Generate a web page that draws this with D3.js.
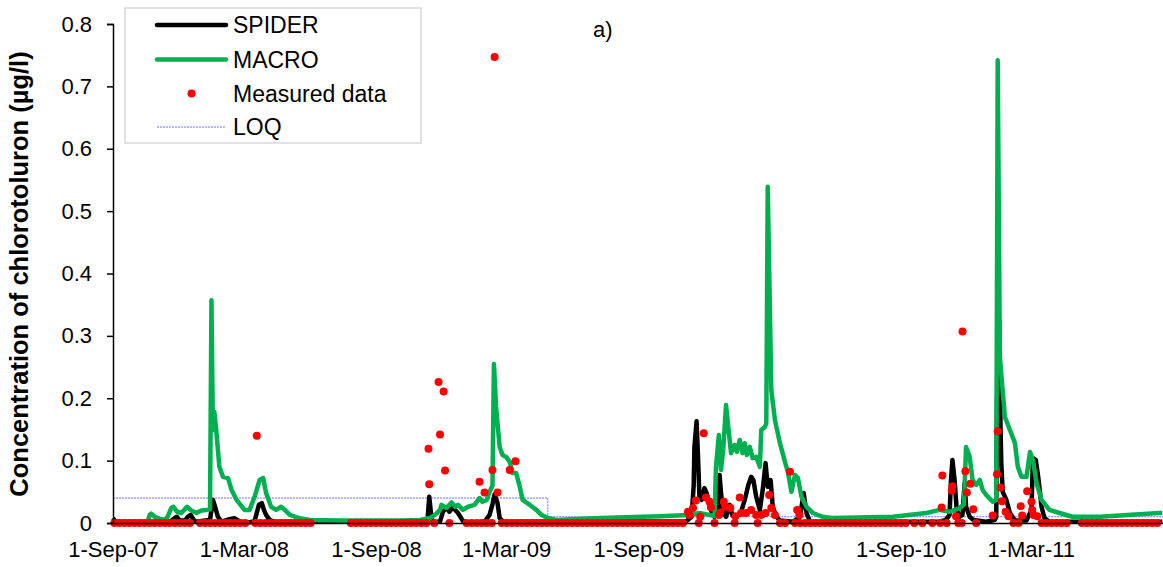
<!DOCTYPE html>
<html>
<head>
<meta charset="utf-8">
<script src="https://cdn.jsdelivr.net/npm/d3@7"></script>
<style>
  body { margin: 0; background: #fff; }
  text { font-family: "Liberation Sans", Arial, sans-serif; fill: #000; }
</style>
</head>
<body>
<div class="container"></div>
<script>
var width = 1163;
var height = 567;
var padding = {
  top: 24,
  bottom: 44,
  left: 113,
  right: 0
};

// x axis: labelled dates and the extent of the time axis
var xDomain = ["2007-09-01", "2011-09-01"];
var xTickDates = ["2007-09-01", "2008-03-01", "2008-09-01", "2009-03-01",
  "2009-09-01", "2010-03-01", "2010-09-01", "2011-03-01"];
var yTicks = [0, 0.1, 0.2, 0.3, 0.4, 0.5, 0.6, 0.7, 0.8];

// SPIDER simulated concentration (ug/l)
var spider = [
  ["2007-09-01", 0.008], ["2007-09-05", 0.002], ["2007-11-19", 0.002], ["2007-11-26", 0.008],
  ["2007-11-29", 0.010], ["2007-12-03", 0.004], ["2007-12-10", 0.004], ["2007-12-14", 0.010],
  ["2007-12-18", 0.013], ["2007-12-24", 0.002], ["2008-01-14", 0.005], ["2008-01-18", 0.037],
  ["2008-01-21", 0.026], ["2008-01-25", 0.010], ["2008-01-30", 0.002], ["2008-02-10", 0.006],
  ["2008-02-17", 0.0075], ["2008-02-24", 0.003], ["2008-03-05", 0.000], ["2008-03-16", 0.003],
  ["2008-03-22", 0.029], ["2008-03-26", 0.032], ["2008-03-29", 0.021], ["2008-04-01", 0.013],
  ["2008-04-06", 0.005], ["2008-04-13", 0.002], ["2008-11-10", 0.002], ["2008-11-12", 0.010],
  ["2008-11-14", 0.042], ["2008-11-17", 0.010], ["2008-11-19", 0.002], ["2008-11-29", 0.002],
  ["2008-12-03", 0.018], ["2008-12-08", 0.025], ["2008-12-12", 0.018], ["2008-12-17", 0.025],
  ["2008-12-24", 0.016], ["2008-12-31", 0.003], ["2009-01-07", 0.001], ["2009-01-30", 0.002],
  ["2009-02-06", 0.013], ["2009-02-10", 0.030], ["2009-02-13", 0.046], ["2009-02-17", 0.032],
  ["2009-02-20", 0.008], ["2009-02-25", 0.002], ["2009-11-07", 0.003], ["2009-11-14", 0.010],
  ["2009-11-17", 0.060], ["2009-11-18", 0.122], ["2009-11-21", 0.163], ["2009-11-23", 0.106],
  ["2009-11-25", 0.042], ["2009-11-28", 0.037], ["2009-12-02", 0.056], ["2009-12-05", 0.048],
  ["2009-12-08", 0.032], ["2009-12-12", 0.018], ["2009-12-16", 0.010], ["2009-12-21", 0.021],
  ["2009-12-23", 0.077], ["2009-12-25", 0.048], ["2009-12-28", 0.018], ["2010-01-01", 0.010],
  ["2010-01-06", 0.029], ["2010-01-10", 0.012], ["2010-01-15", 0.010], ["2010-01-22", 0.018],
  ["2010-01-27", 0.037], ["2010-02-01", 0.061], ["2010-02-05", 0.074], ["2010-02-08", 0.069],
  ["2010-02-12", 0.042], ["2010-02-17", 0.021], ["2010-02-21", 0.053], ["2010-02-25", 0.096],
  ["2010-02-28", 0.058], ["2010-03-04", 0.069], ["2010-03-07", 0.026], ["2010-03-12", 0.010],
  ["2010-03-17", 0.004], ["2010-04-04", 0.002], ["2010-04-14", 0.010], ["2010-04-19", 0.048],
  ["2010-04-23", 0.016], ["2010-04-28", 0.002], ["2010-10-25", 0.002], ["2010-11-03", 0.005],
  ["2010-11-08", 0.013], ["2010-11-10", 0.069], ["2010-11-12", 0.101], ["2010-11-15", 0.069],
  ["2010-11-18", 0.021], ["2010-11-22", 0.010], ["2010-11-26", 0.013], ["2010-11-29", 0.064],
  ["2010-12-01", 0.026], ["2010-12-06", 0.010], ["2010-12-11", 0.005], ["2010-12-29", 0.002],
  ["2011-01-10", 0.005], ["2011-01-12", 0.010], ["2011-01-13", 0.200], ["2011-01-14", 0.229],
  ["2011-01-16", 0.325], ["2011-01-17", 0.230], ["2011-01-18", 0.150], ["2011-01-19", 0.096],
  ["2011-01-21", 0.050], ["2011-01-26", 0.037], ["2011-01-31", 0.016], ["2011-02-07", 0.004],
  ["2011-02-23", 0.004], ["2011-03-02", 0.021], ["2011-03-04", 0.104], ["2011-03-08", 0.101],
  ["2011-03-11", 0.077], ["2011-03-13", 0.058], ["2011-03-16", 0.026], ["2011-03-20", 0.008],
  ["2011-03-27", 0.002], ["2011-08-31", 0.002]
];

// MACRO simulated concentration (ug/l)
var macro = [
  ["2007-09-01", 0.000], ["2007-10-19", 0.001], ["2007-10-22", 0.013], ["2007-10-24", 0.015],
  ["2007-10-29", 0.010], ["2007-11-05", 0.007], ["2007-11-12", 0.005], ["2007-11-16", 0.010],
  ["2007-11-21", 0.024], ["2007-11-24", 0.026], ["2007-11-29", 0.018], ["2007-12-05", 0.016],
  ["2007-12-13", 0.026], ["2007-12-19", 0.020], ["2007-12-26", 0.016], ["2008-01-02", 0.020],
  ["2008-01-09", 0.021], ["2008-01-14", 0.022], ["2008-01-16", 0.357], ["2008-01-18", 0.149],
  ["2008-01-20", 0.178], ["2008-01-23", 0.144], ["2008-01-27", 0.090], ["2008-02-01", 0.074],
  ["2008-02-08", 0.072], ["2008-02-13", 0.053], ["2008-02-20", 0.037], ["2008-03-02", 0.021],
  ["2008-03-09", 0.021], ["2008-03-16", 0.042], ["2008-03-23", 0.069], ["2008-03-28", 0.072],
  ["2008-04-01", 0.048], ["2008-04-08", 0.026], ["2008-04-15", 0.021], ["2008-04-22", 0.026],
  ["2008-04-27", 0.021], ["2008-05-04", 0.013], ["2008-05-18", 0.0075], ["2008-06-01", 0.005],
  ["2008-07-12", 0.004], ["2008-10-04", 0.004], ["2008-11-01", 0.005], ["2008-11-15", 0.008],
  ["2008-11-24", 0.015], ["2008-11-29", 0.021], ["2008-12-01", 0.029], ["2008-12-08", 0.024],
  ["2008-12-15", 0.033], ["2008-12-20", 0.026], ["2008-12-24", 0.029], ["2008-12-31", 0.021],
  ["2009-01-07", 0.026], ["2009-01-16", 0.029], ["2009-01-23", 0.040], ["2009-01-27", 0.034],
  ["2009-02-02", 0.037], ["2009-02-06", 0.050], ["2009-02-10", 0.060], ["2009-02-12", 0.255],
  ["2009-02-15", 0.186], ["2009-02-20", 0.122], ["2009-02-24", 0.109], ["2009-03-01", 0.106],
  ["2009-03-06", 0.098], ["2009-03-10", 0.080], ["2009-03-15", 0.080], ["2009-03-20", 0.058],
  ["2009-03-24", 0.037], ["2009-04-03", 0.029], ["2009-04-12", 0.021], ["2009-04-19", 0.013],
  ["2009-04-28", 0.008], ["2009-05-10", 0.005], ["2009-07-10", 0.008], ["2009-10-01", 0.011],
  ["2009-11-11", 0.013], ["2009-11-25", 0.016], ["2009-12-09", 0.013], ["2009-12-16", 0.011],
  ["2009-12-18", 0.090], ["2009-12-22", 0.141], ["2009-12-25", 0.085], ["2009-12-28", 0.117],
  ["2010-01-01", 0.189], ["2010-01-05", 0.144], ["2010-01-08", 0.112], ["2010-01-13", 0.125],
  ["2010-01-16", 0.114], ["2010-01-20", 0.133], ["2010-01-24", 0.112], ["2010-01-27", 0.128],
  ["2010-01-30", 0.109], ["2010-02-03", 0.122], ["2010-02-07", 0.104], ["2010-02-12", 0.106],
  ["2010-02-17", 0.090], ["2010-02-19", 0.149], ["2010-02-24", 0.154], ["2010-02-26", 0.160],
  ["2010-02-28", 0.539], ["2010-03-05", 0.213], ["2010-03-10", 0.165], ["2010-03-17", 0.128],
  ["2010-03-24", 0.098], ["2010-03-28", 0.082], ["2010-04-02", 0.050], ["2010-04-07", 0.077],
  ["2010-04-11", 0.072], ["2010-04-16", 0.042], ["2010-04-23", 0.026], ["2010-05-02", 0.016],
  ["2010-05-15", 0.010], ["2010-05-29", 0.008], ["2010-08-21", 0.010], ["2010-10-07", 0.016],
  ["2010-10-25", 0.021], ["2010-11-08", 0.018], ["2010-11-22", 0.024], ["2010-11-28", 0.030],
  ["2010-12-01", 0.122], ["2010-12-06", 0.106], ["2010-12-10", 0.069], ["2010-12-15", 0.061],
  ["2010-12-20", 0.069], ["2010-12-24", 0.053], ["2010-12-29", 0.045], ["2011-01-07", 0.034],
  ["2011-01-12", 0.037], ["2011-01-14", 0.742], ["2011-01-17", 0.266], ["2011-01-24", 0.170],
  ["2011-01-31", 0.149], ["2011-02-07", 0.128], ["2011-02-11", 0.090], ["2011-02-16", 0.074],
  ["2011-02-23", 0.074], ["2011-02-28", 0.114], ["2011-03-04", 0.101], ["2011-03-09", 0.064],
  ["2011-03-16", 0.037], ["2011-03-27", 0.021], ["2011-04-10", 0.016], ["2011-04-28", 0.010],
  ["2011-06-05", 0.010], ["2011-08-27", 0.016], ["2011-08-31", 0.016]
];

// measured concentrations above the limit of quantification (ug/l)
var measuredDetects = [
  ["2008-03-19", 0.140], ["2008-11-13", 0.119], ["2008-11-14", 0.062], ["2008-11-27", 0.226],
  ["2008-11-29", 0.142], ["2008-12-04", 0.211], ["2008-12-06", 0.084], ["2009-01-23", 0.066],
  ["2009-01-30", 0.049], ["2009-02-10", 0.085], ["2009-02-13", 0.747], ["2009-02-17", 0.049],
  ["2009-03-06", 0.085], ["2009-03-14", 0.099],
  ["2009-11-09", 0.018], ["2009-11-11", 0.013], ["2009-11-16", 0.024], ["2009-11-20", 0.036],
  ["2009-11-26", 0.010], ["2009-12-01", 0.144], ["2009-12-04", 0.041], ["2009-12-09", 0.034],
  ["2009-12-11", 0.025], ["2009-12-22", 0.013], ["2009-12-24", 0.017], ["2009-12-29", 0.034],
  ["2009-12-31", 0.026], ["2010-01-07", 0.024], ["2010-01-14", 0.011], ["2010-01-20", 0.041],
  ["2010-01-22", 0.016], ["2010-01-29", 0.016], ["2010-02-05", 0.021], ["2010-02-12", 0.013],
  ["2010-02-19", 0.013], ["2010-02-25", 0.016], ["2010-03-02", 0.045], ["2010-03-05", 0.024],
  ["2010-03-10", 0.013], ["2010-03-31", 0.082], ["2010-04-10", 0.021], ["2010-04-13", 0.013],
  ["2010-10-28", 0.025], ["2010-10-29", 0.076], ["2010-11-11", 0.052], ["2010-11-12", 0.059],
  ["2010-11-17", 0.011], ["2010-11-26", 0.307], ["2010-11-30", 0.083], ["2010-12-02", 0.049],
  ["2010-12-07", 0.063], ["2010-12-11", 0.022], ["2011-01-07", 0.012], ["2011-01-13", 0.078],
  ["2011-01-14", 0.147], ["2011-01-18", 0.057], ["2011-01-20", 0.035], ["2011-01-25", 0.018],
  ["2011-01-29", 0.011], ["2011-02-15", 0.027], ["2011-02-17", 0.012], ["2011-02-24", 0.051],
  ["2011-03-02", 0.034], ["2011-03-03", 0.021], ["2011-03-05", 0.013], ["2011-03-10", 0.011]
];

// sampling dates with no detection, plotted at zero
var measuredZero = [
  "2007-09-03", "2007-09-10", "2007-09-17", "2007-09-24", "2007-10-01", "2007-10-08", "2007-10-15",
  "2007-10-22", "2007-10-29", "2007-11-05", "2007-11-12", "2007-11-19", "2007-11-26", "2007-12-03",
  "2007-12-10", "2007-12-17", "2007-12-31", "2008-01-07", "2008-01-14", "2008-01-21", "2008-01-28",
  "2008-02-04", "2008-02-11", "2008-02-18", "2008-02-25", "2008-03-03", "2008-03-17", "2008-03-24",
  "2008-03-31", "2008-04-07", "2008-04-14", "2008-04-21", "2008-04-28", "2008-05-05", "2008-05-12",
  "2008-05-19", "2008-05-26", "2008-06-02", "2008-07-28", "2008-08-04", "2008-08-11", "2008-08-18",
  "2008-08-25", "2008-09-01", "2008-09-08", "2008-09-15", "2008-09-22", "2008-09-29", "2008-10-06",
  "2008-10-13", "2008-10-20", "2008-10-27", "2008-11-03", "2008-11-10", "2008-11-21", "2008-12-12",
  "2009-01-05", "2009-01-12", "2009-01-19", "2009-01-26", "2009-02-02", "2009-02-09", "2009-02-23",
  "2009-03-02", "2009-03-09", "2009-03-16", "2009-03-23", "2009-03-30", "2009-04-06", "2009-04-13",
  "2009-04-20", "2009-04-27", "2009-05-04", "2009-05-11", "2009-05-18", "2009-05-25", "2009-06-01",
  "2009-06-08", "2009-06-15", "2009-06-22", "2009-06-29", "2009-07-06", "2009-07-13", "2009-07-20",
  "2009-07-27", "2009-08-03", "2009-08-10", "2009-08-17", "2009-08-24", "2009-08-31", "2009-09-07",
  "2009-09-14", "2009-09-21", "2009-09-28", "2009-10-05", "2009-10-12", "2009-10-19", "2009-10-26",
  "2009-11-02", "2009-11-24", "2009-12-16", "2010-01-13", "2010-02-14", "2010-03-17", "2010-03-24",
  "2010-04-07", "2010-04-14", "2010-04-21", "2010-04-28", "2010-05-05", "2010-05-12", "2010-05-19",
  "2010-05-26", "2010-06-02", "2010-06-09", "2010-06-16", "2010-06-23", "2010-06-30", "2010-07-07",
  "2010-07-14", "2010-07-21", "2010-07-28", "2010-08-04", "2010-08-11", "2010-08-18", "2010-08-25",
  "2010-09-01", "2010-09-08", "2010-09-20", "2010-10-01", "2010-10-15", "2010-10-26", "2010-11-04",
  "2010-11-20", "2010-11-25", "2010-12-15", "2011-02-05", "2011-02-12", "2011-03-16", "2011-03-23",
  "2011-03-30", "2011-04-06", "2011-04-13", "2011-04-20", "2011-05-11", "2011-05-18", "2011-05-25",
  "2011-06-01", "2011-06-08", "2011-06-15", "2011-06-22", "2011-06-29", "2011-07-06", "2011-07-13",
  "2011-07-20", "2011-07-27", "2011-08-03", "2011-08-10", "2011-08-17", "2011-08-24"
];

// limit of quantification (step change in spring 2009)
var loq = [
  ["2007-09-01", 0.04], ["2009-04-28", 0.04], ["2009-04-28", 0.01], ["2011-09-01", 0.01]
];

var colors = {
  spider: "#000000",
  macro: "#00b050",
  measured: "#ff0000",
  loq: "#6f6fff"
};

var parseDate = d3.utcParse("%Y-%m-%d");

var svg = d3.select(".container").append("svg")
  .attr("width", width)
  .attr("height", height);

var xScale = d3.scaleUtc()
  .domain(xDomain.map(parseDate))
  .range([padding.left, width - padding.right]);
var yScale = d3.scaleLinear()
  .domain([0, 0.8])
  .range([height - padding.bottom, padding.top]);

var line = d3.line()
  .x(function(d) { return xScale(parseDate(d[0])); })
  .y(function(d) { return yScale(d[1]); });

renderLoq();
renderSeries(spider, colors.spider);
renderSeries(macro, colors.macro);
renderMeasured();
renderAxes();
renderLegend();

svg.append("text")
  .attr("x", 593)
  .attr("y", 37)
  .style("font-size", "22px")
  .text("a)");

function renderLoq() {
  svg.append("path")
    .datum(loq)
    .attr("d", line)
    .style("fill", "none")
    .style("stroke", colors.loq)
    .style("stroke-width", 1)
    .style("stroke-dasharray", "2,1");
}

function renderSeries(data, color) {
  svg.append("path")
    .datum(data)
    .attr("d", line)
    .style("fill", "none")
    .style("stroke", color)
    .style("stroke-width", 4.5)
    .style("stroke-linejoin", "round");
}

function renderMeasured() {
  var points = measuredZero.map(function(d) { return [d, 0]; }).concat(measuredDetects);
  svg.append("g").selectAll("circle")
    .data(points)
    .enter().append("circle")
    .attr("cx", function(d) { return xScale(parseDate(d[0])); })
    .attr("cy", function(d) { return yScale(d[1]); })
    .attr("r", 4)
    .style("fill", colors.measured);
}

function renderAxes() {
  var axisY = d3.axisLeft(yScale)
    .tickValues(yTicks)
    .tickSize(6)
    .tickPadding(15)
    .tickFormat(function(d) { return d === 0 ? "0" : d3.format(".1f")(d); });

  var gy = svg.append("g")
    .attr("transform", "translate(" + padding.left + ",0)")
    .call(axisY);
  gy.select(".domain").style("stroke", "#000").style("stroke-width", 1.5);
  gy.selectAll(".tick line").style("stroke", "#000").style("stroke-width", 1.5);
  gy.selectAll("text").style("font-size", "22px").style("font-family", "'Liberation Sans', Arial, sans-serif");

  var axisX = d3.axisBottom(xScale)
    .tickValues(xTickDates.map(parseDate))
    .tickSize(0)
    .tickPadding(18)
    .tickFormat(d3.utcFormat("%-d-%b-%y"));

  var gx = svg.append("g")
    .attr("transform", "translate(0," + yScale(0) + ")")
    .call(axisX);
  gx.select(".domain").style("stroke", "#000").style("stroke-width", 1.5);
  gx.selectAll("text").style("font-size", "22px").style("font-family", "'Liberation Sans', Arial, sans-serif");

  svg.append("text")
    .attr("transform", "rotate(-90)")
    .attr("x", -274)
    .attr("y", 28)
    .style("text-anchor", "middle")
    .style("font-size", "25.5px")
    .style("font-weight", "bold")
    .text("Concentration of chlorotoluron (\u00b5g/l)");
}

function renderLegend() {
  var key = svg.append("g");
  key.append("rect")
    .attr("x", 125)
    .attr("y", 8)
    .attr("width", 296)
    .attr("height", 135)
    .style("fill", "#fff")
    .style("stroke", "#d9d9d9")
    .style("stroke-width", 1.5);

  var entries = [
    {label: "SPIDER", type: "line", color: colors.spider},
    {label: "MACRO", type: "line", color: colors.macro},
    {label: "Measured data", type: "dot", color: colors.measured},
    {label: "LOQ", type: "loq", color: colors.loq}
  ];
  var rowY = [25, 59.5, 93.5, 127];

  entries.forEach(function(e, i) {
    var y = rowY[i];
    if (e.type === "dot") {
      key.append("circle")
        .attr("cx", 191.5)
        .attr("cy", y)
        .attr("r", 4)
        .style("fill", e.color);
    } else {
      key.append("line")
        .attr("x1", 157)
        .attr("x2", 226)
        .attr("y1", y)
        .attr("y2", y)
        .style("stroke", e.color)
        .style("stroke-width", e.type === "loq" ? 1 : 4.5)
        .style("stroke-dasharray", e.type === "loq" ? "2,1" : null)
        .style("stroke-linecap", e.type === "loq" ? "butt" : "round");
    }
    key.append("text")
      .attr("x", 233)
      .attr("y", y)
      .attr("dy", "0.35em")
      .style("font-size", "23px")
      .text(e.label);
  });
}
</script>
</body>
</html>
